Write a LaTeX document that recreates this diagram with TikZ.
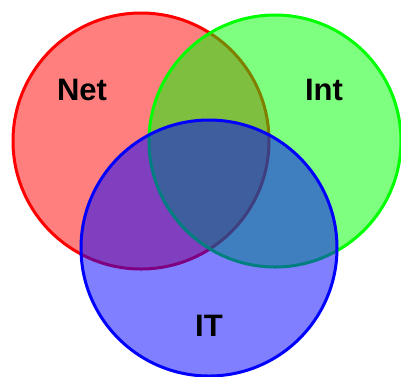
\documentclass[tikz,border=0pt]{standalone}
\usepackage{fontspec}
\setmainfont{Liberation Sans}
\begin{document}
\begin{tikzpicture}[x=1pt,y=-1pt,
  setc/.style={draw=#1,fill=#1,fill opacity=0.5,draw opacity=1,line width=3pt},
  lbl/.style={font=\fontsize{31}{31}\selectfont\bfseries,text=black}]
\useasboundingbox (0,0) rectangle (401,376);
\begin{scope}
\clip (0,0) rectangle (401,376);
\path[setc=red] (141,141) circle (128);
\path[setc=green] (275,141) circle (126);
\path[setc=blue] (209,248) circle (128);
\end{scope}
\node[lbl] (net) at (82,90) {Net};
\node[lbl] (int) at (324,90) {Int};
\node[lbl] (it) at (209,326) {IT};
\end{tikzpicture}
\end{document}
